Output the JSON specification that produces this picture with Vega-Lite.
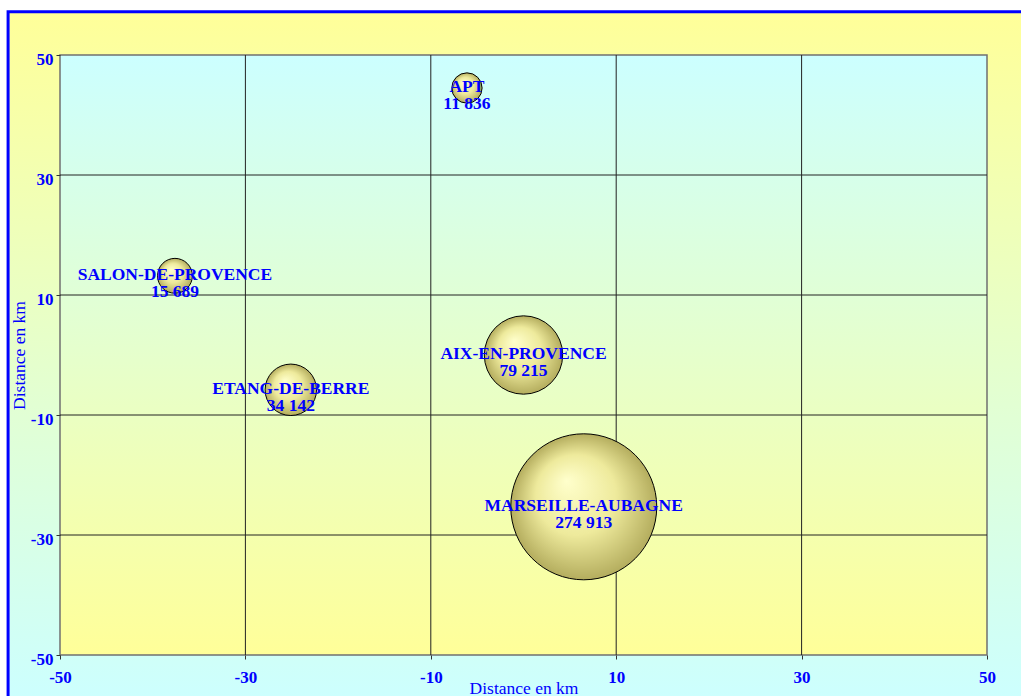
{
  "$schema": "https://vega.github.io/schema/vega-lite/v6.json",
  "width": 927,
  "height": 600,
  "autosize": {"type": "none"},
  "padding": {"left": 60, "top": 55, "right": 34, "bottom": 41},
  "background": "white",
  "config": {
    "view": {"stroke": null},
    "axis": {
      "labelFont": "Liberation Serif",
      "labelFontWeight": "bold",
      "labelFontSize": 17,
      "labelColor": "#0000FF",
      "labelFlush": false,
      "labelExpr": "toString(datum.value)",
      "titleFont": "Liberation Serif",
      "titleFontWeight": "normal",
      "titleFontSize": 17.5,
      "titleColor": "#0000FF",
      "tickColor": "#333333",
      "tickSize": 4,
      "domain": false,
      "grid": false
    }
  },
  "datasets": {
    "towns": [
      {"name": "APT", "x": -6.1, "y": 44.5, "pop": 11836, "popLabel": "11 836"},
      {"name": "SALON-DE-PROVENCE", "x": -37.6, "y": 13.2, "pop": 15689, "popLabel": "15 689"},
      {"name": "ETANG-DE-BERRE", "x": -25.1, "y": -5.8, "pop": 34142, "popLabel": "34 142"},
      {"name": "AIX-EN-PROVENCE", "x": 0, "y": 0, "pop": 79215, "popLabel": "79 215"},
      {"name": "MARSEILLE-AUBAGNE", "x": 6.5, "y": -25.3, "pop": 274913, "popLabel": "274 913"}
    ],
    "grid": [{"v": -30}, {"v": -10}, {"v": 10}, {"v": 30}]
  },
  "layer": [
    {
      "data": {"values": [{}]},
      "mark": {
        "type": "rect",
        "clip": false,
        "stroke": "#0000FF",
        "strokeWidth": 3,
        "fill": {
          "gradient": "linear", "x1": 0, "y1": 0, "x2": 0, "y2": 1,
          "stops": [{"offset": 0, "color": "#FFFF99"}, {"offset": 1, "color": "#CCFFFF"}]
        }
      },
      "encoding": {
        "x": {"datum": -55.6, "type": "quantitative"},
        "x2": {"datum": 56},
        "y": {"datum": 57.2, "type": "quantitative"},
        "y2": {"datum": -58}
      }
    },
    {
      "data": {"values": [{}]},
      "mark": {
        "type": "rect",
        "stroke": "#707070",
        "strokeWidth": 1.5,
        "fill": {
          "gradient": "linear", "x1": 0, "y1": 0, "x2": 0, "y2": 1,
          "stops": [{"offset": 0, "color": "#CCFFFF"}, {"offset": 1, "color": "#FFFF99"}]
        }
      },
      "encoding": {
        "x": {"datum": -50, "type": "quantitative"},
        "x2": {"datum": 50},
        "y": {"datum": 50, "type": "quantitative"},
        "y2": {"datum": -50}
      }
    },
    {
      "data": {"name": "grid"},
      "mark": {"type": "rule", "color": "#222222", "strokeWidth": 1},
      "encoding": {"x": {"field": "v", "type": "quantitative"}}
    },
    {
      "data": {"name": "grid"},
      "mark": {"type": "rule", "color": "#222222", "strokeWidth": 1},
      "encoding": {"y": {"field": "v", "type": "quantitative"}}
    },
    {
      "data": {"name": "towns"},
      "mark": {
        "type": "circle",
        "opacity": 1,
        "stroke": "#000000",
        "strokeWidth": 1,
        "fill": {
          "gradient": "radial", "x1": 0.38, "y1": 0.32, "r1": 0, "x2": 0.5, "y2": 0.5, "r2": 0.5,
          "stops": [
            {"offset": 0, "color": "#FFFFCC"},
            {"offset": 0.55, "color": "#EEEA9C"},
            {"offset": 1, "color": "#B4AD5E"}
          ]
        }
      },
      "encoding": {
        "x": {"field": "x", "type": "quantitative", "scale": {"domain": [-50, 50], "nice": false, "zero": false},
              "axis": {"values": [-50, -30, -10, 10, 30, 50], "title": "Distance en km", "labelPadding": 10, "titlePadding": -6, "zindex": 2}},
        "y": {"field": "y", "type": "quantitative", "scale": {"domain": [-50, 50], "nice": false, "zero": false},
              "axis": {"values": [-50, -30, -10, 10, 30, 50], "title": "Distance en km", "labelPadding": 3, "labelOffset": 4, "titlePadding": 2, "zindex": 2}},
        "size": {"field": "pop", "type": "quantitative", "scale": {"type": "linear", "domain": [0, 274913], "range": [0, 21316], "zero": true}, "legend": null}
      }
    },
    {
      "data": {"name": "towns"},
      "mark": {"type": "text", "font": "Liberation Serif", "fontWeight": "bold", "fontSize": 17.5, "color": "#0000FF", "baseline": "middle", "align": "center", "dy": -1},
      "encoding": {
        "x": {"field": "x", "type": "quantitative"},
        "y": {"field": "y", "type": "quantitative"},
        "text": {"field": "name"}
      }
    },
    {
      "data": {"name": "towns"},
      "mark": {"type": "text", "font": "Liberation Serif", "fontWeight": "bold", "fontSize": 17.5, "color": "#0000FF", "baseline": "middle", "align": "center", "dy": 16},
      "encoding": {
        "x": {"field": "x", "type": "quantitative"},
        "y": {"field": "y", "type": "quantitative"},
        "text": {"field": "popLabel"}
      }
    }
  ]
}
